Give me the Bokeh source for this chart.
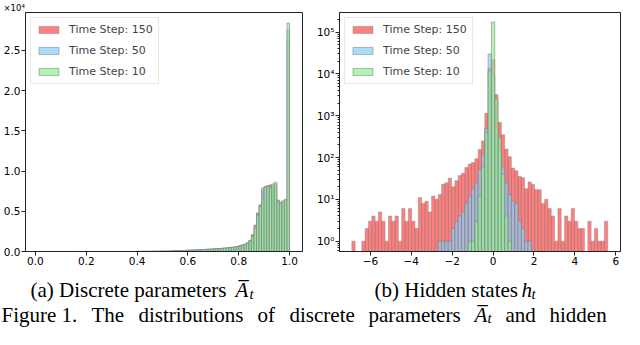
import numpy as np
from bokeh.plotting import figure
from bokeh.layouts import column, row
from bokeh.models import (Range1d, FixedTicker, Label, Legend, LegendItem, ColumnDataSource,
                          PrintfTickFormatter, Title)
from bokeh.embed import file_html
from bokeh.resources import INLINE

# ---------------- data: panel (a) discrete parameters (counts in units of 1e4) ----------------
a_edges = np.linspace(0.40, 1.00, 61)
a_ts150 = [0.001, 0.001, 0.002, 0.002, 0.002, 0.003, 0.003, 0.004, 0.004, 0.005,
           0.005, 0.006, 0.006, 0.007, 0.008, 0.009, 0.010, 0.011, 0.012, 0.014,
           0.016, 0.018, 0.019, 0.021, 0.022, 0.024, 0.025, 0.027, 0.029, 0.031,
           0.033, 0.035, 0.037, 0.040, 0.043, 0.046, 0.049, 0.053, 0.057, 0.062,
           0.072, 0.080, 0.090, 0.108, 0.140, 0.21, 0.33, 0.48, 0.58, 0.76,
           0.80, 0.82, 0.83, 0.80, 0.82, 0.63, 0.61, 0.62, 0.64, 2.62]
a_ts50 = [0.001, 0.001, 0.002, 0.002, 0.002, 0.003, 0.003, 0.004, 0.004, 0.005,
          0.005, 0.006, 0.006, 0.007, 0.008, 0.009, 0.010, 0.011, 0.012, 0.014,
          0.016, 0.018, 0.019, 0.021, 0.022, 0.024, 0.025, 0.027, 0.029, 0.031,
          0.033, 0.035, 0.037, 0.039, 0.042, 0.045, 0.048, 0.052, 0.056, 0.061,
          0.071, 0.079, 0.089, 0.106, 0.137, 0.20, 0.31, 0.47, 0.57, 0.79,
          0.81, 0.80, 0.81, 0.82, 0.84, 0.64, 0.60, 0.62, 0.64, 2.76]
a_ts10 = [0.001, 0.001, 0.002, 0.002, 0.002, 0.003, 0.003, 0.004, 0.004, 0.005,
          0.005, 0.006, 0.006, 0.007, 0.008, 0.009, 0.010, 0.011, 0.012, 0.014,
          0.016, 0.018, 0.019, 0.021, 0.022, 0.024, 0.025, 0.027, 0.029, 0.031,
          0.033, 0.035, 0.037, 0.039, 0.042, 0.045, 0.048, 0.052, 0.056, 0.060,
          0.070, 0.078, 0.088, 0.105, 0.135, 0.19, 0.29, 0.45, 0.56, 0.66,
          0.80, 0.81, 0.80, 0.84, 0.86, 0.62, 0.60, 0.63, 0.65, 2.84]
a_xticks = [0.0, 0.2, 0.4, 0.6, 0.8, 1.0]
a_yticks = [0.0, 0.5, 1.0, 1.5, 2.0, 2.5]
a_scale_text = "\u00d710\u2074"

# ---------------- data: panel (b) hidden states (counts) ----------------
h_edges = np.linspace(-6.90625, 5.60625, 78)
h_ts150 = [1, 0, 0, 1, 2, 3, 4, 3, 5, 3,
           1, 4, 3, 4, 1, 6, 3, 6, 3, 2,
           11, 8, 9, 5, 12, 10, 13, 23, 25, 32,
           20, 28, 37, 42, 58, 70, 76, 94, 156, 250,
           1150, 14000, 22000, 3200, 700, 350, 160, 105, 56, 48,
           35, 33, 18, 26, 23, 17, 17, 8, 10, 6,
           4, 1, 6, 1, 4, 3, 6, 3, 2, 2,
           0, 3, 1, 2, 1, 1, 3]
h_ts50 = [0, 0, 0, 0, 0, 0, 0, 0, 0, 0,
          0, 0, 0, 0, 0, 0, 0, 0, 0, 0,
          0, 0, 0, 0, 0, 0, 1, 1, 1, 1,
          2, 3, 4, 5, 8, 12, 18, 25, 52, 120,
          500, 30000, 9000, 500, 150, 60, 25, 13, 9, 8,
          3, 2, 1, 1, 0, 0, 0, 0, 0, 0,
          0, 0, 0, 0, 0, 0, 0, 0, 0, 0,
          0, 0, 0, 0, 0, 0, 0]
h_ts10 = [0, 0, 0, 0, 0, 0, 0, 0, 0, 0,
          0, 0, 0, 0, 0, 0, 0, 0, 0, 0,
          0, 0, 0, 0, 0, 0, 0, 0, 0, 0,
          0, 0, 0, 0, 0, 1, 1, 3, 12, 60,
          400, 12000, 175000, 2500, 300, 40, 4, 1, 0, 0,
          0, 0, 0, 0, 0, 0, 0, 0, 0, 0,
          0, 0, 0, 0, 0, 0, 0, 0, 0, 0,
          0, 0, 0, 0, 0, 0, 0]
h_xticks = [-6, -4, -2, 0, 2, 4, 6]
h_yticks = [1, 10, 100, 1000, 10000, 100000]
h_ylabels = ["10\u2070", "10\u00b9", "10\u00b2", "10\u00b3", "10\u2074", "10\u2075"]

series_labels = ["Time Step: 150", "Time Step: 50", "Time Step: 10"]
series_colors = ["red", "lightskyblue", "lightgreen"]
series_alpha = [0.5, 0.7, 0.7]

TICK_FONT = "DejaVu Sans"
SERIF = "Liberation Serif"


def style_axes(p):
    p.grid.visible = False
    p.outline_line_color = "#222222"
    p.outline_line_width = 1
    for ax in p.axis:
        ax.axis_line_color = "#222222"
        ax.major_tick_line_color = "#222222"
        ax.minor_tick_line_color = "#222222"
        ax.major_tick_out = 4
        ax.major_tick_in = 0
        ax.minor_tick_in = 0
        ax.minor_tick_out = 0
        ax.major_label_standoff = 1
        ax.major_label_text_font = TICK_FONT
        ax.major_label_text_font_size = "10.5px"
        ax.major_label_text_color = "black"


def add_hist(p, edges, counts_list, bottom):
    items = []
    for lab, counts, col, alp in zip(series_labels, counts_list, series_colors, series_alpha):
        c = np.asarray(counts, dtype=float)
        m = c > 0
        src = ColumnDataSource(dict(left=edges[:-1][m], right=edges[1:][m], top=c[m]))
        r = p.quad(left="left", right="right", top="top", bottom=bottom, source=src,
                   fill_color=col, fill_alpha=alp, line_color="gray", line_alpha=alp * 0.8,
                   line_width=1)
        items.append(LegendItem(label=lab, renderers=[r]))
    leg = Legend(items=items, location="top_left", margin=5, padding=5, spacing=8,
                 glyph_width=25, glyph_height=9, label_height=9, label_standoff=8,
                 label_text_font=TICK_FONT, label_text_font_size="11px",
                 border_line_color="#d0d0d0", border_line_width=1,
                 background_fill_color="white", background_fill_alpha=0.8)
    p.add_layout(leg)


PLOT_H = 269
TOP = 11
BOTTOM = 18

# ---------------- panel (a) ----------------
p1 = figure(width=310, height=PLOT_H, x_range=Range1d(-0.039, 1.051), y_range=Range1d(0, 2.97),
            output_backend="svg", toolbar_location=None,
            min_border_left=22, min_border_right=8, min_border_top=TOP, min_border_bottom=BOTTOM)
add_hist(p1, a_edges, [a_ts150, a_ts50, a_ts10], 0)
style_axes(p1)
p1.xaxis.ticker = FixedTicker(ticks=a_xticks)
p1.yaxis.ticker = FixedTicker(ticks=a_yticks)
p1.xaxis.formatter = PrintfTickFormatter(format="%.1f")
p1.yaxis.formatter = PrintfTickFormatter(format="%.1f")
p1.add_layout(Title(text=a_scale_text, align="left", offset=-22, standoff=0,
                    text_font=TICK_FONT, text_font_size="8.5px", text_font_style="normal",
                    text_color="black"), "above")

# ---------------- panel (b) ----------------
p2 = figure(width=314, height=PLOT_H, x_range=Range1d(-7.51, 6.23), y_range=Range1d(0.565, 2.95e5),
            y_axis_type="log", output_backend="svg", toolbar_location=None,
            min_border_left=29, min_border_right=4, min_border_top=TOP, min_border_bottom=BOTTOM)
add_hist(p2, h_edges, [h_ts150, h_ts50, h_ts10], 0.01)
style_axes(p2)
p2.xaxis.ticker = FixedTicker(ticks=h_xticks)
p2.xaxis.major_label_overrides = {t: ("\u2212" + str(abs(t)) if t < 0 else str(t)) for t in h_xticks}
minor = [m * d for d in [0.1, 1, 10, 100, 1000, 10000, 100000] for m in range(2, 10)]
p2.yaxis.ticker = FixedTicker(ticks=h_yticks, minor_ticks=minor)
p2.yaxis.major_label_overrides = dict(zip(h_yticks, h_ylabels))
p2.yaxis.minor_tick_out = 2

# ---------------- captions ----------------
CAP_H = 58
cap = figure(width=624, height=CAP_H, x_range=Range1d(0, 624), y_range=Range1d(CAP_H, 0),
             output_backend="svg", toolbar_location=None, min_border=0,
             x_axis_location=None, y_axis_location=None)
cap.grid.visible = False
cap.outline_line_color = None


def cap_text(x, y, s, size="21px", style="normal"):
    cap.add_layout(Label(x=x, y=y, text=s, text_font=SERIF, text_font_size=size,
                         text_font_style=style, text_baseline="alphabetic", text_color="black"))


cap_text(30, 20, "(a) Discrete parameters")
cap_text(235, 20, "A\u0305", style="italic")
cap_text(249, 24, "t", size="15px", style="italic")
cap_text(374, 20, "(b) Hidden states")
cap_text(521, 20, "h", style="italic")
cap_text(531, 24, "t", size="15px", style="italic")

fig_words = [(1, "Figure 1."), (91, "The"), (138, "distributions"), (257, "of"),
             (289, "discrete"), (368, "parameters")]
for x, w in fig_words:
    cap_text(x, 45, w)
cap_text(474, 45, "A\u0305", style="italic")
cap_text(487, 48, "t", size="15px", style="italic")
cap_text(505, 45, "and")
cap_text(549, 45, "hidden")

layout = column(row(p1, p2), cap)
open("out.html", "w").write(file_html(layout, INLINE))
